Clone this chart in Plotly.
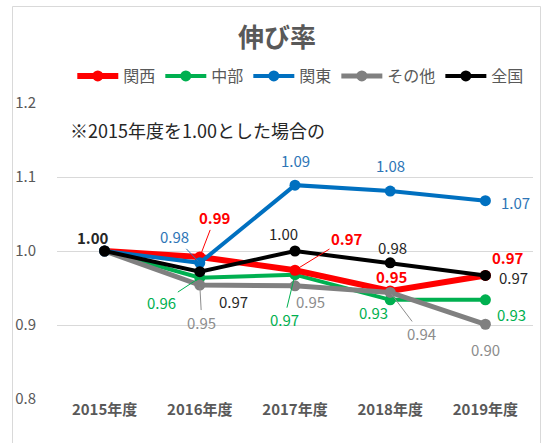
import plotly.graph_objects as go

years = ["2015年度", "2016年度", "2017年度", "2018年度", "2019年度"]

kansai = [1.00, 0.992, 0.974, 0.946, 0.967]
chubu = [1.00, 0.964, 0.968, 0.934, 0.934]
kanto = [1.00, 0.984, 1.089, 1.081, 1.068]
sonota = [1.00, 0.954, 0.953, 0.944, 0.901]
zenkoku = [1.00, 0.972, 1.00, 0.984, 0.967]

FONT = "Noto Sans CJK JP"

# name, values, line color, label color, line width, legend rank, bold labels
series = [
    ("中部", chubu, "#00B050", "#00B050", 4, 2, False),
    ("関西", kansai, "#FF0000", "#FF0000", 6, 1, True),
    ("その他", sonota, "#808080", "#8C8C8C", 5, 4, False),
    ("関東", kanto, "#0070C0", "#2E75B6", 4, 3, False),
    ("全国", zenkoku, "#000000", "#262626", 4, 5, False),
]

# label offsets per series (dx, dy in px, leader line?) ; None = no label
label_pos = {
    "関西": [None, (15, -39, True), (52, -32, True), (2, -14, False), (23, -18, False)],
    "中部": [None, (-38, 25, True), (-11, 45, True), (-17, 13, False), (26, 15, False)],
    "関東": [None, (-25, -26, True), (0, -25, False), (0, -26, False), (30, 2, False)],
    "その他": [None, (2, 37, True), (15, 16, False), (31, 41, True), (0, 25, False)],
    "全国": [(-12, -14, False), (34, 30, True), (-12, -18, False), (2, -15, False), (28, 2, False)],
}

fig = go.Figure()
annotations = []
for name, vals, color, lcolor, width, rank, bold in series:
    fig.add_trace(go.Scatter(
        x=years, y=vals, name=name, mode="lines+markers",
        line=dict(color=color, width=width),
        marker=dict(color=color, size=11),
        legendrank=rank,
    ))
    for i, (yr, v) in enumerate(zip(years, vals)):
        pos = label_pos[name][i]
        if pos is None:
            continue
        dx, dy, leader = pos
        txt = f"{v:.2f}"
        if bold or (name == "全国" and i == 0):
            txt = f"<b>{txt}</b>"
        a = dict(x=yr, y=v, xref="x", yref="y", text=txt,
                 font=dict(family=FONT, size=15, color=lcolor))
        if leader:
            a.update(showarrow=True, arrowhead=0, arrowwidth=1,
                     arrowcolor=lcolor, ax=dx, ay=dy, standoff=2)
        else:
            a.update(showarrow=False, xshift=dx, yshift=-dy)
        annotations.append(a)

annotations.append(dict(
    x=0.023, y=0.909, xref="paper", yref="paper", xanchor="left",
    yanchor="middle", showarrow=False, text="※2015年度を1.00とした場合の",
    font=dict(family=FONT, size=18, color="#262626"),
))

fig.update_layout(
    width=541, height=443,
    margin=dict(l=57, r=8, t=103, b=44, autoexpand=False),
    paper_bgcolor="white", plot_bgcolor="white",
    title=dict(text="<b>伸び率</b>", x=0.512, xref="container", y=1 - 38 / 443,
               yref="container", xanchor="center", yanchor="middle",
               font=dict(family=FONT, size=26, color="#595959")),
    legend=dict(orientation="h", x=0.556, xref="container", xanchor="center",
                y=1 - 76 / 443, yref="container", yanchor="middle",
                font=dict(family=FONT, size=16, color="#595959"),
                itemwidth=41, traceorder="normal", itemclick=False),
    annotations=annotations,
    shapes=[dict(type="rect", xref="paper", yref="paper",
                 x0=(12.5 - 57) / 476, x1=(540.5 - 57) / 476,
                 y0=(399 - 460) / 296, y1=(399 - 6.5) / 296,
                 line=dict(color="#D9D9D9", width=1), layer="below")],
    showlegend=True,
)
fig.update_xaxes(
    type="category", range=[-0.5, 4.5], showgrid=False, showline=False,
    ticks="", automargin=False,
    tickfont=dict(family=FONT, size=15, color="#595959", weight="bold"),
)
fig.update_yaxes(
    range=[0.8, 1.2], dtick=0.1, tickformat=".1f", showgrid=True,
    gridcolor="#D9D9D9", gridwidth=1, zeroline=False, showline=False,
    ticklabelstandoff=20, automargin=False,
    tickfont=dict(family=FONT, size=15, color="#595959"),
)

fig.write_html("out.html", config={"displayModeBar": False},
               post_script="document.body.style.margin='0';")
